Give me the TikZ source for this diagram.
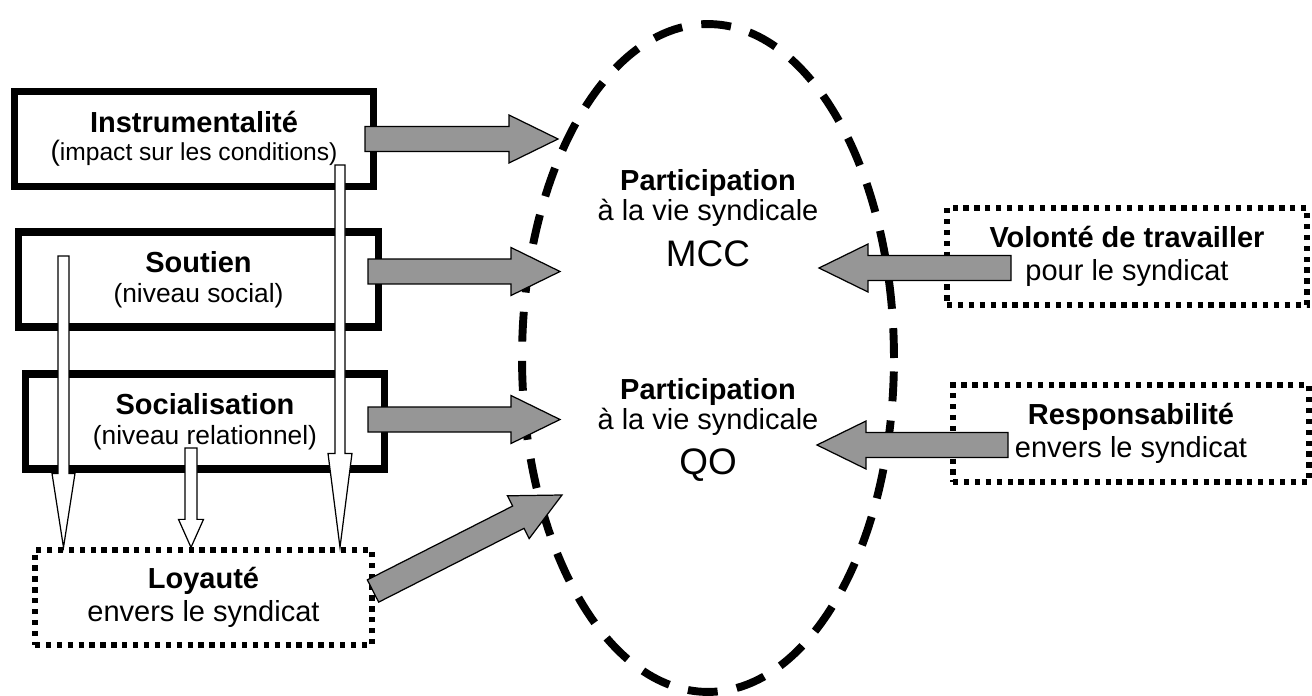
\documentclass[tikz,border=0pt]{standalone}
\usepackage{fontspec}
\setmainfont{Liberation Sans}
\usetikzlibrary{shapes.geometric, calc, positioning}
\definecolor{arrowgrey}{HTML}{969696}
\tikzstyle{solidbox} = [rectangle, draw=black, fill=white, line width=4pt,
                        minimum width=7.2cm, minimum height=1.9cm, inner sep=0pt,
                        align=center, font=\fontsize{15}{17}\selectfont]
\tikzstyle{dotbox} = [rectangle, draw=black, fill=white, line width=3pt,
                      dash pattern=on 3pt off 3.2pt, minimum width=7.2cm,
                      minimum height=1.94cm, inner sep=0pt,
                      align=center, font=\fontsize{16.5}{18.5}\selectfont]
\tikzstyle{zone} = [ellipse, draw=black, line width=4.5pt,
                    dash pattern=on 17pt off 11pt,
                    minimum width=7.44cm, minimum height=13.36cm]
\tikzstyle{zonetext} = [align=center, inner sep=0pt, font=\fontsize{16.5}{17}\selectfont]
\tikzstyle{greyarrow} = [draw=black, fill=arrowgrey, line width=0.7pt]
\tikzstyle{whitearrow} = [draw=black, fill=white, line width=0.7pt]
\newcommand{\titre}[1]{{\fontsize{16.5}{17}\selectfont\bfseries #1}}
% block arrow: [style]{tail}{tip}{half shaft}{half head}{head length}
\newcommand{\blockarrow}[6][]{%
  \coordinate (ba-base) at ($(#3)!#6!(#2)$);
  \draw[#1] ($(#2)!#4!90:(#3)$) -- ($(ba-base)!#4!90:(#3)$)
    -- ($(ba-base)!#5!90:(#3)$) -- (#3) -- ($(ba-base)!#5!-90:(#3)$)
    -- ($(ba-base)!#4!-90:(#3)$) -- ($(#2)!#4!-90:(#3)$) -- cycle;}

\begin{document}
\begin{tikzpicture}[x=0.02cm, y=-0.02cm]
    \useasboundingbox (0,0) rectangle (1312,696);

    % participation
    \node[zone] (zone) at (708,358) {};
    \node[zonetext] (mcc) at (708,218.5) {\titre{Participation}\\
        à la vie syndicale\\[7pt]{\fontsize{21}{25}\selectfont MCC}};
    \node[zonetext] (qo) at (708,430) {\titre{Participation}\\
        à la vie syndicale\\[7pt]{\fontsize{21}{25}\selectfont QO}};

    % left boxes
    \node[solidbox, font=\fontsize{14}{16}\selectfont] (instr) at (194,139)
        {\titre{Instrumentalité}\\{\fontsize{16}{16}\selectfont(}impact sur les conditions)};
    \node[solidbox] (soutien) at (198.5,279.5) {\titre{Soutien}\\(niveau social)};
    \node[solidbox] (social) at (205,421.5) {\titre{Socialisation}\\(niveau relationnel)};
    \node[dotbox, minimum width=6.74cm, minimum height=1.9cm] (loy) at (203.5,597.5)
        {\titre{Loyauté}\\envers le syndicat};

    % right boxes
    \node[dotbox] (vol) at (1127,256.5) {\titre{Volonté de travailler}\\pour le syndicat};
    \node[dotbox, minimum width=7.12cm] (resp) at (1131,433.5)
        {\titre{Responsabilité}\\envers le syndicat};

    % white arrows down to loyalty
    \coordinate (w-instr) at (340,165);
    \coordinate (w-soutien) at (63.5,256);
    \coordinate (w-social) at (191,448);
    \coordinate (w-instr-end) at (w-instr |- loy.north);
    \coordinate (w-soutien-end) at (w-soutien |- loy.north);
    \coordinate (w-social-end) at (w-social |- loy.north);
    \blockarrow[whitearrow]{w-instr}{w-instr-end}{0.1cm}{0.24cm}{1.88cm}
    \blockarrow[whitearrow]{w-soutien}{w-soutien-end}{0.11cm}{0.23cm}{1.48cm}
    \blockarrow[whitearrow]{w-social}{w-social-end}{0.12cm}{0.25cm}{0.56cm}

    % grey arrows into participation
    \coordinate (g-instr) at (365,139);
    \coordinate (g-soutien) at (368,271.5);
    \coordinate (g-social) at (368,419.5);
    \coordinate (g-loy) at (373,591);
    \coordinate (g-vol) at (1011,268);
    \coordinate (g-resp) at (1008,445);
    \coordinate (z-instr) at (558,139);
    \coordinate (z-soutien) at (560,271.5);
    \coordinate (z-social) at (560,419.5);
    \coordinate (z-loy) at (562,495);
    \coordinate (z-vol) at (819,268);
    \coordinate (z-resp) at (817,445);
    \foreach \a in {instr, soutien, social, loy, vol, resp}{
        \blockarrow[greyarrow]{g-\a}{z-\a}{0.25cm}{0.48cm}{0.98cm}
    }
\end{tikzpicture}
\end{document}
